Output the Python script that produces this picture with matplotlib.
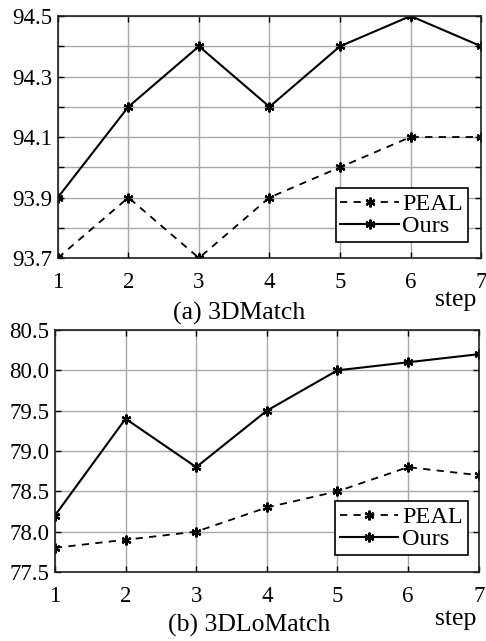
import numpy as np
import matplotlib
matplotlib.use('Agg')
import matplotlib.pyplot as plt

plt.rcParams['font.family'] = ['Liberation Serif', 'DejaVu Serif']

steps = [1, 2, 3, 4, 5, 6, 7]

peal_3dm = [93.7, 93.9, 93.7, 93.9, 94.0, 94.1, 94.1]
ours_3dm = [93.9, 94.2, 94.4, 94.2, 94.4, 94.5, 94.4]

peal_3dlo = [77.8, 77.9, 78.0, 78.3, 78.5, 78.8, 78.7]
ours_3dlo = [78.2, 79.4, 78.8, 79.5, 80.0, 80.1, 80.2]

FS = 16.5
STAR = (6, 2, 0)  # asterisk, like matlab '*'


def draw(ax, peal, ours, ylim, major, minor, caption, cap_xy, step_xy, leg_anchor):
    ax.plot(steps, peal, color='black', linestyle=(0, (4, 3.5)), linewidth=1.3,
            marker=STAR, markersize=7, markeredgewidth=1.6, label='PEAL')
    ax.plot(steps, ours, color='black', linestyle='-', linewidth=1.5,
            marker=STAR, markersize=7, markeredgewidth=1.6, label='Ours')

    ax.set_xlim(1, 7)
    ax.set_ylim(*ylim)
    ax.set_xticks(steps)
    ax.set_yticks(major)
    ax.set_yticks(minor, minor=True)
    ax.set_yticklabels(['%.1f' % v for v in major])

    ax.grid(True, which='both', color='#a8a8a8', linewidth=1.0)
    ax.set_axisbelow(True)
    for sp in ax.spines.values():
        sp.set_linewidth(1.2)
        sp.set_color('#202020')

    ax.tick_params(axis='both', which='both', direction='in', labelsize=FS,
                   length=4, width=1, colors='black', top=True, right=True)
    ax.tick_params(axis='x', pad=10)
    ax.tick_params(axis='y', pad=4)

    leg = ax.legend(loc='lower right', bbox_to_anchor=leg_anchor, fontsize=FS + 1,
                    frameon=True, fancybox=False, edgecolor='black', framealpha=1,
                    borderaxespad=0, handlelength=2.4, handletextpad=0.15,
                    borderpad=0.2, labelspacing=0.0, numpoints=1)
    leg.get_frame().set_linewidth(1.2)

    ax.text(cap_xy[0], cap_xy[1], caption, transform=ax.transAxes, fontsize=FS + 2,
            ha='center', va='center')
    ax.text(step_xy[0], step_xy[1], 'step', transform=ax.transAxes, fontsize=FS + 2,
            ha='center', va='center')


fig = plt.figure(figsize=(4.86, 6.41), dpi=100)

ax0 = fig.add_axes([0.119, 0.5975, 0.871, 0.3775])
draw(ax0, peal_3dm, ours_3dm, (93.7, 94.5),
     [93.7, 93.9, 94.1, 94.3, 94.5], np.arange(93.7, 94.55, 0.1),
     '(a) 3DMatch', (0.429, -0.231), (0.94, -0.174), (0.969, 0.066))

ax1 = fig.add_axes([0.113, 0.1076, 0.872, 0.3776])
draw(ax1, peal_3dlo, ours_3dlo, (77.5, 80.5),
     [77.5, 78.0, 78.5, 79.0, 79.5, 80.0, 80.5], [],
     '(b) 3DLoMatch', (0.458, -0.219), (0.946, -0.194), (0.974, 0.07))

fig.savefig('out.png', dpi=100)
